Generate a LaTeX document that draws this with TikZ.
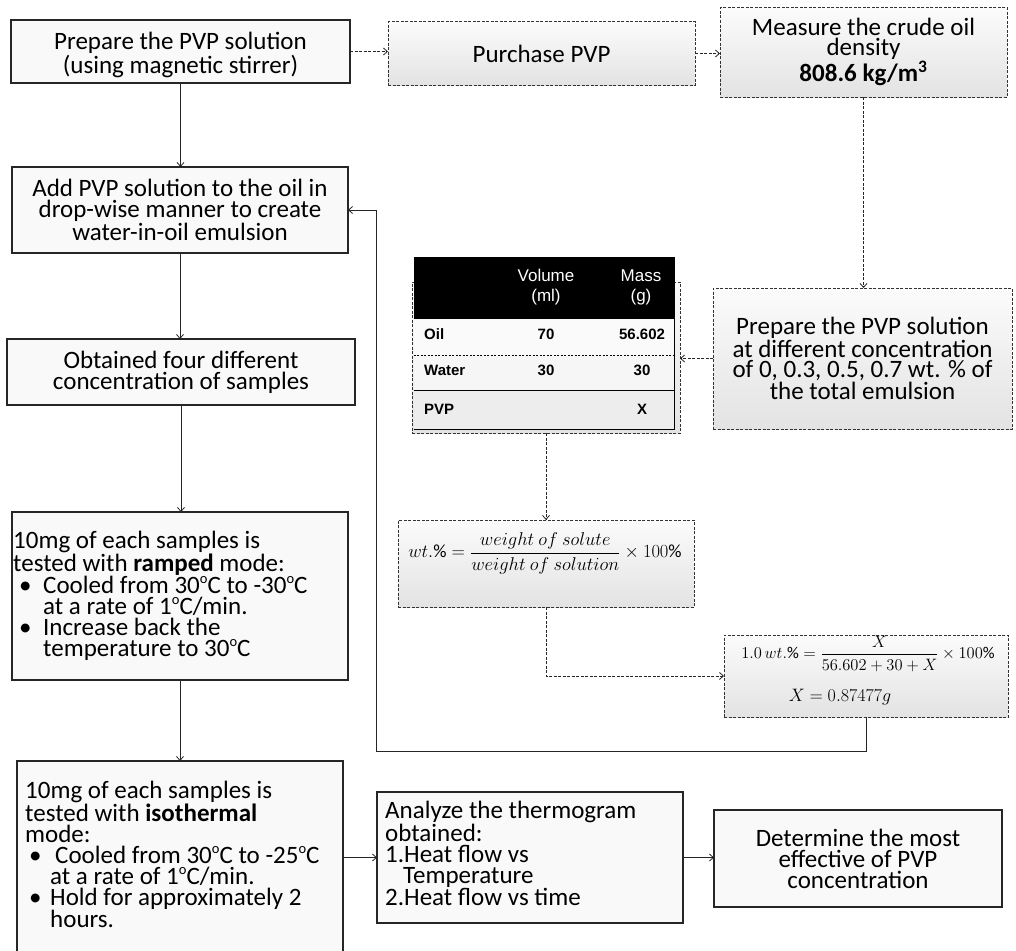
\RequirePackage{fix-cm}
\documentclass[tikz,border=0pt]{standalone}
\usepackage{amsmath}
\usepackage{fontspec}
\setmainfont{Carlito}
\newfontfamily\tabfont{Liberation Sans}
\usetikzlibrary{arrows.meta}
\newcommand\degc{\raisebox{0.85ex}{\fontsize{14.5}{14.5}\selectfont o}C}
\begin{document}
\begin{tikzpicture}[x=1pt,y=-1pt,
  sbox/.style={draw=black!85, line width=1.2pt, fill=gray!5, inner sep=0pt, outer sep=0pt},
  dbox/.style={draw=black!80, line width=1pt, dash pattern=on 3pt off 1.5pt, inner sep=0pt, outer sep=0pt, top color=gray!3, bottom color=gray!22},
  big/.style={font=\fontsize{25}{21}\selectfont, align=center, inner sep=0pt},
  ltxt/.style={font=\fontsize{25}{21}\selectfont, align=left, inner sep=0pt, anchor=north west},
  arr/.style={-{Straight Barb[length=4pt,width=7pt]}, line width=0.8pt, draw=black!85},
  darr/.style={arr, dash pattern=on 3pt off 1.5pt},
  thd/.style={font=\tabfont\fontsize{17}{20}\selectfont, inner sep=0pt, align=center, text=white},
  tcell/.style={font=\tabfont\bfseries\fontsize{15}{17}\selectfont, inner sep=0pt}
]
\useasboundingbox (0,0) rectangle (1016,950);

% top row
\node[sbox, minimum width=339pt, minimum height=63pt] (b1) at (180.5,51.5) {};
\node[big, font=\fontsize{25}{22}\selectfont] (t1) at (180.5,55)
  {Prepare the PVP solution\\(using magnetic stirrer)};
\node[dbox, big, minimum width=307pt, minimum height=63pt] (b2) at (541.5,53.5) {Purchase PVP};
\node[dbox, minimum width=287pt, minimum height=89pt] (b3) at (863.5,52.5) {};
\node[big, font=\fontsize{25}{20}\selectfont] (t3) at (863.5,52)
  {Measure the crude oil\\density\\\textbf{808.6 kg/m\textsuperscript{3}}};

% left column
\node[sbox, big, minimum width=336pt, minimum height=86pt] (b4) at (180,210)
  {Add PVP solution to the oil in\\drop-wise manner to create\\water-in-oil emulsion};
\node[sbox, big, minimum width=348pt, minimum height=66pt] (b5) at (181,372)
  {Obtained four different\\concentration of samples};
\node[sbox, minimum width=336pt, minimum height=168pt] (b6) at (180,596) {};
\node[ltxt] (t6) at (13,531) {10mg of each samples is\\
tested with \textbf{ramped} mode:\\
\hspace*{6pt}\makebox[24pt][l]{\textbullet}Cooled from 30\degc{} to -30\degc\\
\hspace*{30pt}at a rate of 1\degc/min.\\
\hspace*{6pt}\makebox[24pt][l]{\textbullet}Increase back the\\
\hspace*{30pt}temperature to 30\degc};
\node[sbox, minimum width=326pt, minimum height=204pt] (b7) at (180,863) {};
\node[ltxt] (t7) at (25,781) {10mg of each samples is\\
tested with \textbf{isothermal}\\
mode:\\
\hspace*{4pt}\makebox[26pt][l]{\textbullet}Cooled from 30\degc{} to -25\degc\\
\hspace*{25pt}at a rate of 1\degc/min.\\
\hspace*{4pt}\makebox[21pt][l]{\textbullet}Hold for approximately 2\\
\hspace*{25pt}hours.};

% bottom row
\node[sbox, minimum width=306pt, minimum height=131pt] (b8) at (530,857.5) {};
\node[ltxt] (t8) at (385,801) {Analyze the thermogram\\
obtained:\\
1.Heat flow vs\\
\hspace*{18pt}Temperature\\
2.Heat flow vs time};
\node[sbox, big, minimum width=288pt, minimum height=97pt] (b9) at (858,858.5)
  {Determine the most\\effective of PVP\\concentration};

% right part
\node[dbox, big, font=\fontsize{25}{20.5}\selectfont, minimum width=299pt, minimum height=141pt] (rbox) at (862.5,358.5)
  {Prepare the PVP solution\\at different concentration\\of 0, 0.3, 0.5, 0.7 wt. \% of\\the total emulsion};

% table
\node[dbox, minimum width=268pt, minimum height=151pt] (tblout) at (546,357.5) {};
\node[fill=gray!4, minimum width=260pt, minimum height=37pt, inner sep=0pt] (r1) at (544,336.5) {};
\node[fill=gray!7, minimum width=260pt, minimum height=35pt, inner sep=0pt] (r2) at (544,372.5) {};
\node[fill=gray!14, minimum width=260pt, minimum height=39pt, inner sep=0pt] (r3) at (544,409.5) {};
\node[fill=black, draw=black, minimum width=260pt, minimum height=61pt, inner sep=0pt] (th) at (544,287.5) {};
\draw[line width=0.6pt, dash pattern=on 2pt off 1.5pt] (r1.south west) -- (r1.south east);
\draw[line width=1pt] (r2.south west) -- (r2.south east);
\draw[line width=1.1pt] (th.north east) -- (r3.south east) -- (r3.south west);
\node[thd] (hv) at (546,287) {Volume\\(ml)};
\node[thd] (hm) at (641,287) {Mass\\(g)};
\node[tcell, anchor=west] (c11) at (424,334) {Oil};
\node[tcell] (c12) at (546,334) {70};
\node[tcell] (c13) at (642,334) {56.602};
\node[tcell, anchor=west] (c21) at (424,370) {Water};
\node[tcell] (c22) at (546,370) {30};
\node[tcell] (c23) at (642,370) {30};
\node[tcell, anchor=west] (c31) at (424,409) {PVP};
\node[tcell] (c33) at (642,409) {X};

% formulas
\node[dbox, minimum width=296pt, minimum height=87pt] (f1) at (546,563.5) {};
\node[font=\fontsize{18.5}{22}\selectfont, inner sep=0pt] (f1t) at (545,553)
  {$wt.\% = \dfrac{weight\ of\ solute}{weight\ of\ solution}\times 100\%$};
\node[dbox, minimum width=284pt, minimum height=82pt] (f2) at (866,676) {};
\node[font=\fontsize{16.5}{20}\selectfont, inner sep=0pt] (f2a) at (868,654)
  {$1.0\,wt.\% = \dfrac{X}{56.602+30+X}\times 100\%$};
\node[font=\fontsize{18}{22}\selectfont, inner sep=0pt] (f2b) at (840,697) {$X = 0.87477g$};

% connectors
\draw[darr] (b1.east) -- (b1.east -| b2.west);
\draw[darr] (b2.east) -- (b2.east -| b3.west);
\draw[darr] (b3.south) -- (b3.south |- rbox.north);
\draw[darr] (rbox.west) -- (rbox.west -| tblout.east);
\draw[darr] (f1.north |- tblout.south) -- (f1.north);
\draw[darr] (f1.south) |- (f2.west);
\coordinate (lc) at (376,751);
\draw[arr] (f2.south) |- (lc) |- (b4.east);
\draw[arr] (b1.south) -- (b1.south |- b4.north);
\draw[arr] (b4.south) -- (b4.south |- b5.north);
\draw[arr] (b5.south) -- (b5.south |- b6.north);
\draw[arr] (b6.south) -- (b6.south |- b7.north);
\draw[arr] (b8.west -| b7.east) -- (b8.west);
\draw[arr] (b8.east) -- (b8.east -| b9.west);
\end{tikzpicture}
\end{document}
